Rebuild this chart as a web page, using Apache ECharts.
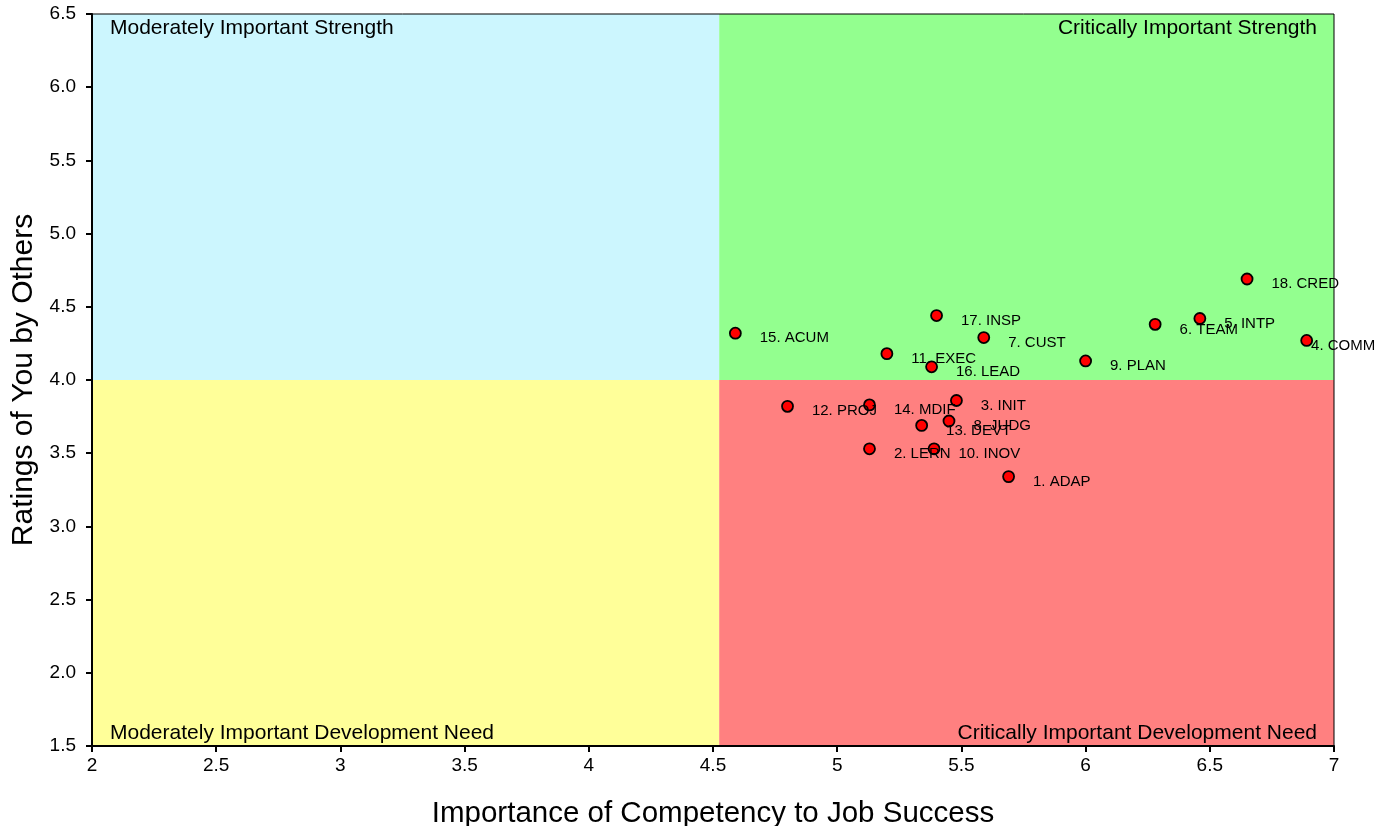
<!DOCTYPE html>
<html>
<head>
<meta charset="utf-8">
<title>Competency quadrant</title>
<script src="https://cdn.jsdelivr.net/npm/echarts@6/dist/echarts.min.js"></script>
<style>
    html, body { margin: 0; padding: 0; background: #fff; }
    #chart { width: 1393px; height: 826px; }
</style>
</head>
<body>
<div id="chart"></div>
<script>
// competency labels, importance (x) and ratings by others (y)
var competencies = ['1. ADAP', '2. LERN', '3. INIT', '4. COMM', '5. INTP', '6. TEAM',
    '7. CUST', '8. JUDG', '9. PLAN', '10. INOV', '11. EXEC', '12. PROJ',
    '13. DEVT', '14. MDIF', '15. ACUM', '16. LEAD', '17. INSP', '18. CRED'];
var importance = [5.69, 5.13, 5.48, 6.89, 6.46, 6.28, 5.59, 5.45, 6.00, 5.39, 5.20, 4.80,
    5.34, 5.13, 4.59, 5.38, 5.40, 6.65];
var ratings = [3.34, 3.53, 3.86, 4.27, 4.42, 4.38, 4.29, 3.72, 4.13, 3.53, 4.18, 3.82,
    3.69, 3.83, 4.32, 4.09, 4.44, 4.69];

// quadrant split and names
var splitX = 4.525;
var splitY = 4.0;
var quadrantNames = ['Moderately Important Strength', 'Critically Important Strength',
    'Moderately Important Development Need', 'Critically Important Development Need'];

var font = 'Arial, "Liberation Sans", sans-serif';

// labels that Excel pushed back inside
var labelOffsets = { '4. COMM': [-7, 5] };

var chart = echarts.init(document.getElementById('chart'));

var points = competencies.map(function (name, i) {
    var item = { name: name, value: [importance[i], ratings[i]] };
    if (labelOffsets[name]) {
        item.label = { offset: labelOffsets[name] };
    }
    return item;
});

var quadLabel = { show: true, color: '#000', fontSize: 21, fontFamily: font, distance: 4 };

var option = {
    animation: false,
    textStyle: { fontFamily: font },
    grid: {
        left: 92,
        right: 59,
        top: 14,
        bottom: 80,
        containLabel: false,
        outerBoundsMode: 'none',
        show: true,
        borderColor: '#000',
        borderWidth: 1
    },
    xAxis: {
        type: 'value',
        min: 2,
        max: 7,
        interval: 0.5,
        name: 'Importance of Competency to Job Success',
        nameLocation: 'middle',
        nameGap: 53,
        nameTextStyle: { fontSize: 29.5, color: '#000', fontFamily: font },
        axisLine: { show: true, lineStyle: { color: '#000', width: 2 } },
        axisTick: { show: true, length: 6, lineStyle: { color: '#000', width: 2 } },
        axisLabel: { color: '#000', fontSize: 19, margin: 10, fontFamily: font },
        splitLine: { show: false }
    },
    yAxis: {
        type: 'value',
        min: 1.5,
        max: 6.5,
        interval: 0.5,
        name: 'Ratings of You by Others',
        nameLocation: 'middle',
        nameGap: 50,
        nameTextStyle: { fontSize: 30, color: '#000', fontFamily: font },
        axisLine: { show: true, lineStyle: { color: '#000', width: 2 } },
        axisTick: { show: true, length: 6, lineStyle: { color: '#000', width: 2 } },
        axisLabel: {
            color: '#000', fontSize: 19, margin: 16, fontFamily: font,
            formatter: function (v) { return v.toFixed(1); }
        },
        splitLine: { show: false }
    },
    series: [{
        type: 'scatter',
        data: points,
        symbol: 'circle',
        symbolSize: 11,
        itemStyle: { color: '#ff0000', borderColor: '#000', borderWidth: 1.8, opacity: 1 },
        label: {
            show: true,
            position: 'right',
            distance: 5,
            offset: [13, 5],
            formatter: '{b}',
            color: '#000',
            fontSize: 15,
            fontFamily: font
        },
        markArea: {
            silent: true,
            z: -1,
            label: quadLabel,
            data: [
                [{ name: quadrantNames[0], coord: [2, splitY], itemStyle: { color: '#ccf6fe', opacity: 1 },
                    label: Object.assign({}, quadLabel, { position: 'insideTopLeft', offset: [14, 0] }) },
                 { coord: [splitX, 6.5] }],
                [{ name: quadrantNames[1], coord: [splitX, splitY], itemStyle: { color: '#93ff8f', opacity: 1 },
                    label: Object.assign({}, quadLabel, { position: 'insideTopRight', offset: [-13, 0] }) },
                 { coord: [7, 6.5] }],
                [{ name: quadrantNames[2], coord: [2, 1.5], itemStyle: { color: '#ffff99', opacity: 1 },
                    label: Object.assign({}, quadLabel, { position: 'insideBottomLeft', offset: [14, 2] }) },
                 { coord: [splitX, splitY] }],
                [{ name: quadrantNames[3], coord: [splitX, 1.5], itemStyle: { color: '#ff8080', opacity: 1 },
                    label: Object.assign({}, quadLabel, { position: 'insideBottomRight', offset: [-13, 2] }) },
                 { coord: [7, splitY] }]
            ]
        }
    }]
};

chart.setOption(option);
</script>
</body>
</html>
